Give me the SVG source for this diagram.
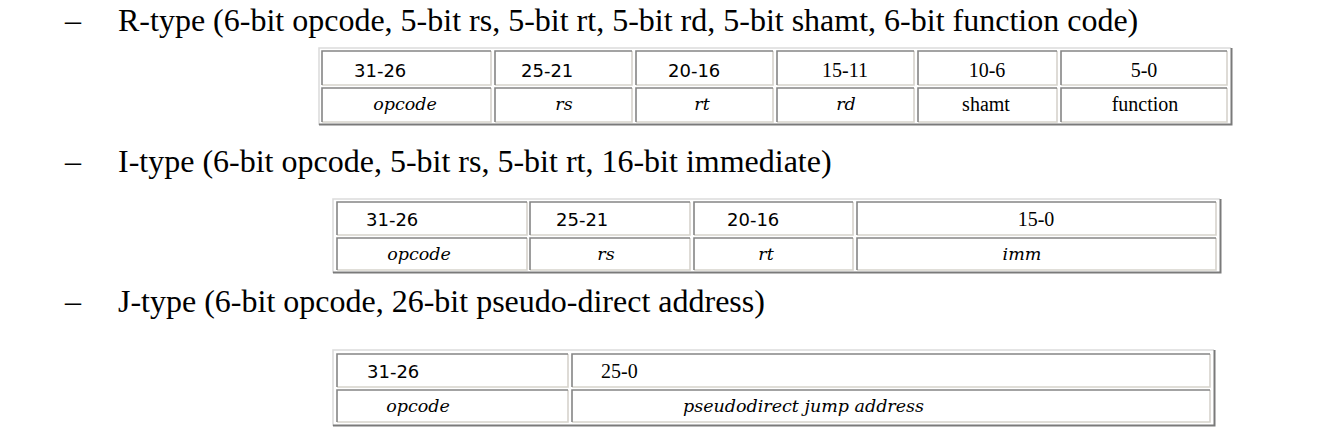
<svg xmlns="http://www.w3.org/2000/svg" width="1332" height="448" viewBox="0 0 1332 448">
<style>
.bg{fill:#fff}
.title{font-family:"Liberation Serif","Times New Roman",serif;font-size:32px;fill:#000}
.sans{font-family:"DejaVu Sans",Verdana,sans-serif;font-size:18px;fill:#000}
.ser{font-family:"Liberation Serif","Times New Roman",serif;font-size:20px;fill:#000}
.it{font-family:"DejaVu Serif",serif;font-style:italic;font-size:17.5px;fill:#000}
.c{text-anchor:middle}
.lt{stroke:#d6d3cc;stroke-width:1.6;fill:none}
.dk{stroke:#858585;stroke-width:1.6;fill:none}
.olt{stroke:#dcdcdc;stroke-width:1.6;fill:none}
.odk{stroke:#7a7a7a;stroke-width:2;fill:none}
</style>
<rect class="bg" x="0" y="0" width="1332" height="448"/>

<g id="titles">
<text class="title" x="65" y="31">–</text>
<text class="title" x="118" y="31">R-type (6-bit opcode, 5-bit rs, 5-bit rt, 5-bit rd, 5-bit shamt, 6-bit function code)</text>
<text class="title" x="65" y="172">–</text>
<text class="title" x="118" y="172">I-type (6-bit opcode, 5-bit rs, 5-bit rt, 16-bit immediate)</text>
<text class="title" x="65" y="312">–</text>
<text class="title" x="118" y="312">J-type (6-bit opcode, 26-bit pseudo-direct address)</text>
</g>

<!-- R-type table -->
<g id="rtable">
<path class="olt" d="M319,125 V48 H1231"/>
<path class="odk" d="M319,124.5 H1231.5 V48"/>
<g id="r-c1"><path class="lt" d="M322,85 H491 V51"/><path class="dk" d="M322,85 V51 H491"/><path class="lt" d="M322,122 H491 V88"/><path class="dk" d="M322,122 V88 H491"/></g>
<g id="r-c2"><path class="lt" d="M495,85 H632 V51"/><path class="dk" d="M495,85 V51 H632"/><path class="lt" d="M495,122 H632 V88"/><path class="dk" d="M495,122 V88 H632"/></g>
<g id="r-c3"><path class="lt" d="M636,85 H773 V51"/><path class="dk" d="M636,85 V51 H773"/><path class="lt" d="M636,122 H773 V88"/><path class="dk" d="M636,122 V88 H773"/></g>
<g id="r-c4"><path class="lt" d="M777,85 H914 V51"/><path class="dk" d="M777,85 V51 H914"/><path class="lt" d="M777,122 H914 V88"/><path class="dk" d="M777,122 V88 H914"/></g>
<g id="r-c5"><path class="lt" d="M918,85 H1057 V51"/><path class="dk" d="M918,85 V51 H1057"/><path class="lt" d="M918,122 H1057 V88"/><path class="dk" d="M918,122 V88 H1057"/></g>
<g id="r-c6"><path class="lt" d="M1061,85 H1227 V51"/><path class="dk" d="M1061,85 V51 H1227"/><path class="lt" d="M1061,122 H1227 V88"/><path class="dk" d="M1061,122 V88 H1227"/></g>
<text class="sans" x="354" y="77">31-26</text>
<text class="sans" x="521" y="77">25-21</text>
<text class="sans" x="668" y="77">20-16</text>
<text class="ser c" x="845" y="77">15-11</text>
<text class="ser c" x="987" y="77">10-6</text>
<text class="ser c" x="1144" y="77">5-0</text>
<text class="it c" x="405" y="110">opcode</text>
<text class="it c" x="564" y="110">rs</text>
<text class="it c" x="702" y="110">rt</text>
<text class="it c" x="846" y="110">rd</text>
<text class="ser c" x="986" y="111">shamt</text>
<text class="ser c" x="1145" y="111">function</text>
</g>

<!-- I-type table -->
<g id="itable">
<path class="olt" d="M333,273 V199 H1220"/>
<path class="odk" d="M333,272.5 H1220.5 V199"/>
<g id="i-c1"><path class="lt" d="M337,235 H527 V202"/><path class="dk" d="M337,235 V202 H527"/><path class="lt" d="M337,270 H527 V238"/><path class="dk" d="M337,270 V238 H527"/></g>
<g id="i-c2"><path class="lt" d="M530,235 H690 V202"/><path class="dk" d="M530,235 V202 H690"/><path class="lt" d="M530,270 H690 V238"/><path class="dk" d="M530,270 V238 H690"/></g>
<g id="i-c3"><path class="lt" d="M694,235 H853 V202"/><path class="dk" d="M694,235 V202 H853"/><path class="lt" d="M694,270 H853 V238"/><path class="dk" d="M694,270 V238 H853"/></g>
<g id="i-c4"><path class="lt" d="M857,235 H1216 V202"/><path class="dk" d="M857,235 V202 H1216"/><path class="lt" d="M857,270 H1216 V238"/><path class="dk" d="M857,270 V238 H1216"/></g>
<text class="sans" x="366" y="226">31-26</text>
<text class="sans" x="556" y="226">25-21</text>
<text class="sans" x="727" y="226">20-16</text>
<text class="ser c" x="1036" y="226">15-0</text>
<text class="it c" x="419" y="260">opcode</text>
<text class="it c" x="606" y="260">rs</text>
<text class="it c" x="766" y="260">rt</text>
<text class="it c" x="1022" y="260">imm</text>
</g>

<!-- J-type table -->
<g id="jtable">
<path class="olt" d="M333,426 V350 H1214"/>
<path class="odk" d="M333,425.5 H1214.5 V350"/>
<g id="j-c1"><path class="lt" d="M337,387 H568 V354"/><path class="dk" d="M337,387 V354 H568"/><path class="lt" d="M337,422 H568 V390"/><path class="dk" d="M337,422 V390 H568"/></g>
<g id="j-c2"><path class="lt" d="M572,387 H1210 V354"/><path class="dk" d="M572,387 V354 H1210"/><path class="lt" d="M572,422 H1210 V390"/><path class="dk" d="M572,422 V390 H1210"/></g>
<text class="sans" x="367" y="378">31-26</text>
<text class="ser" x="601" y="378">25-0</text>
<text class="it c" x="418" y="412">opcode</text>
<text class="it" x="683" y="412">pseudodirect jump address</text>
</g>
</svg>
